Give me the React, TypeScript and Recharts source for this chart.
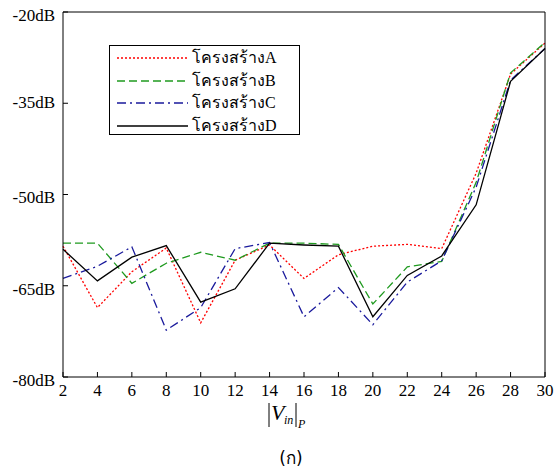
import { LineChart, Line, XAxis, YAxis, Legend } from "recharts";

const vin = [2, 4, 6, 8, 10, 12, 14, 16, 18, 20, 22, 24, 26, 28, 30];
const structA = [-58.5, -68.6, -62.7, -58.8, -71.1, -60.8, -58.3, -63.8, -59.9, -58.5, -58.2, -58.9, -46.5, -30.2, -25.1];
const structB = [-58.0, -58.0, -64.6, -61.3, -59.5, -60.8, -58.0, -58.0, -58.2, -68.0, -61.9, -61.0, -48.0, -30.0, -25.0];
const structC = [-63.8, -61.8, -58.6, -72.3, -68.6, -58.9, -57.9, -70.1, -65.3, -71.4, -64.4, -60.9, -48.8, -31.2, -26.0];
const structD = [-59.0, -64.2, -60.3, -58.4, -67.7, -65.5, -58.0, -58.3, -58.5, -70.1, -63.3, -60.1, -51.7, -31.4, -26.0];
const yTicks = [-80, -65, -50, -35, -20];

const data = vin.map((v, i) => ({
  v,
  a: structA[i],
  b: structB[i],
  c: structC[i],
  d: structD[i],
}));

const serif = "'Liberation Serif', 'Times New Roman', serif";

const series = [
  { key: "a", name: "โครงสร้างA", color: "#ff0000", dash: "2 2" },
  { key: "b", name: "โครงสร้างB", color: "#1f9a1f", dash: "8 4" },
  { key: "c", name: "โครงสร้างC", color: "#1a1a9c", dash: "9 4 2 4" },
  { key: "d", name: "โครงสร้างD", color: "#000000", dash: undefined },
];

function LegendBox() {
  return (
    <div
      style={{
        border: "1px solid #000",
        background: "#fff",
        width: 191,
        height: 90,
        boxSizing: "border-box",
        padding: "1px 0 0 6px",
        fontFamily: serif,
        fontSize: 16,
        lineHeight: "22.5px",
      }}
    >
      {series.map((s) => (
        <div key={s.key} style={{ display: "flex", alignItems: "center", height: 22.5 }}>
          <svg width={73} height={6} style={{ marginRight: 3 }}>
            <line
              x1={1}
              y1={3}
              x2={72}
              y2={3}
              stroke={s.color}
              strokeWidth={1.3}
              strokeDasharray={s.dash}
            />
          </svg>
          <span>{s.name}</span>
        </div>
      ))}
    </div>
  );
}

function YTick(props: any) {
  const { x, y, payload } = props;
  const dy = payload.value === -35 ? 1 : 5;
  return (
    <text x={x} y={y + dy} textAnchor="end" dominantBaseline="middle" fontFamily={serif} fontSize={17} fill="#000">
      {payload.value}dB
    </text>
  );
}

function VinLabel(props: any) {
  const vb = props.viewBox || { x: 63, y: 377, width: 482 };
  const cx = vb.x + vb.width / 2 - 17;
  const top = vb.y + 26;
  return (
    <g fontFamily={serif} fill="#000">
      <line x1={cx - 18} y1={top} x2={cx - 18} y2={top + 24} stroke="#000" strokeWidth={1} />
      <text x={cx - 16} y={top + 17} fontSize={22} fontStyle="italic">V</text>
      <text x={cx - 3} y={top + 21} fontSize={12} fontStyle="italic">in</text>
      <line x1={cx + 9} y1={top} x2={cx + 9} y2={top + 24} stroke="#000" strokeWidth={1} />
      <text x={cx + 11} y={top + 25} fontSize={12} fontStyle="italic">P</text>
    </g>
  );
}

export default function App() {
  return (
    <div style={{ position: "absolute", left: 0, top: 0, width: 557, height: 473, background: "#fff" }}>
      <LineChart width={557} height={473} data={data} margin={{ top: 12, right: 12, left: 0, bottom: 66 }}>
        <XAxis
          dataKey="v"
          type="number"
          domain={[2, 30]}
          ticks={vin}
          interval={0}
          height={30}
          tickSize={-5}
          tickMargin={12}
          stroke="#000"
          tick={{ fill: "#000", fontFamily: serif, fontSize: 17 }}
          label={(p: any) => <VinLabel {...p} />}
        />
        <XAxis
          xAxisId="top"
          dataKey="v"
          type="number"
          orientation="top"
          mirror
          domain={[2, 30]}
          ticks={vin}
          interval={0}
          tick={false}
          tickSize={5}
          stroke="#000"
        />
        <YAxis
          type="number"
          domain={[-80, -20]}
          ticks={yTicks}
          interval={0}
          width={63}
          tickSize={-5}
          tickMargin={13}
          stroke="#000"
          tick={<YTick />}
        />
        <YAxis
          yAxisId="right"
          type="number"
          orientation="right"
          mirror
          domain={[-80, -20]}
          ticks={yTicks}
          interval={0}
          tick={false}
          tickSize={5}
          stroke="#000"
        />
        <Legend
          layout="horizontal"
          verticalAlign="middle"
          align="center"
          content={<LegendBox />}
          wrapperStyle={{ left: 109, top: 45, width: 191, height: 90 }}
        />
        {series.map((s) => (
          <Line
            key={s.key}
            dataKey={s.key}
            name={s.name}
            stroke={s.color}
            strokeWidth={1.3}
            strokeDasharray={s.dash}
            dot={false}
            activeDot={false}
            isAnimationActive={false}
          />
        ))}
      </LineChart>
      <div
        style={{
          position: "absolute",
          left: 0,
          width: 582,
          top: 447,
          textAlign: "center",
          fontFamily: "'DejaVu Sans', 'Noto Sans', sans-serif",
          fontSize: 17,
          lineHeight: "22px",
        }}
      >
        (ก)
      </div>
    </div>
  );
}
